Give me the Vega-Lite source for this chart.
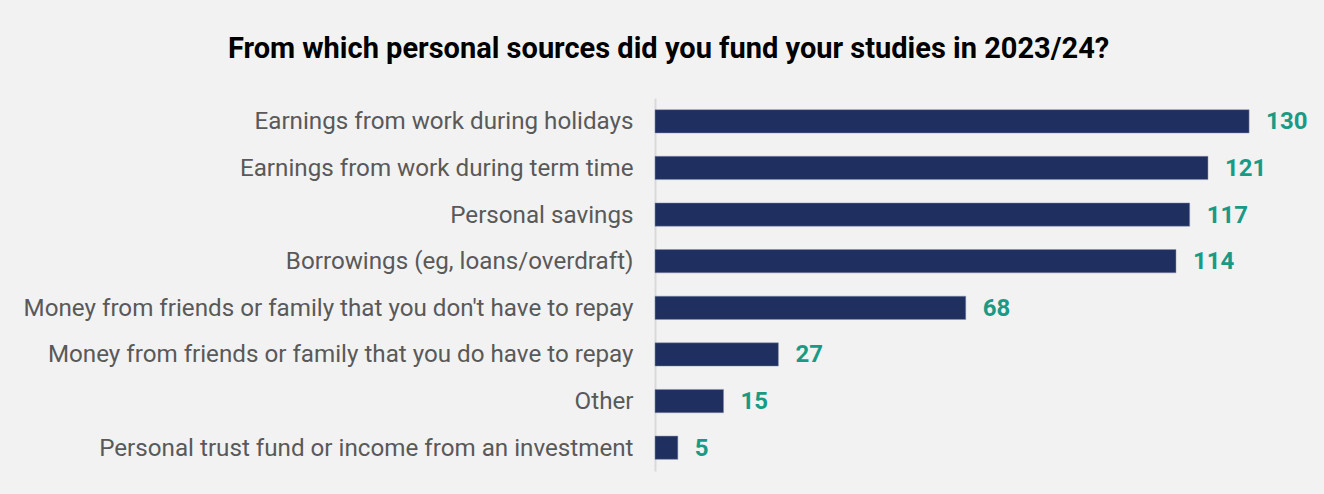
{
  "$schema": "https://vega.github.io/schema/vega-lite/v6.json",
  "autosize": {"type": "none"},
  "padding": {"left": 655, "top": 98, "right": 10, "bottom": 23},
  "width": 659,
  "height": 373,
  "background": "#f2f2f2",
  "config": {"view": {"stroke": null}, "font": "Roboto"},
  "title": {
    "text": "From which personal sources did you fund your studies in 2023/24?",
    "fontSize": 29,
    "fontWeight": "bold",
    "color": "#000000",
    "anchor": "middle",
    "frame": "bounds",
    "offset": 34
  },
  "data": {
    "values": [
      {"source": "Earnings from work during holidays", "value": 130},
      {"source": "Earnings from work during term time", "value": 121},
      {"source": "Personal savings", "value": 117},
      {"source": "Borrowings (eg, loans/overdraft)", "value": 114},
      {"source": "Money from friends or family that you don't have to repay", "value": 68},
      {"source": "Money from friends or family that you do have to repay", "value": 27},
      {"source": "Other", "value": 15},
      {"source": "Personal trust fund or income from an investment", "value": 5}
    ]
  },
  "encoding": {
    "y": {
      "field": "source",
      "type": "nominal",
      "sort": null,
      "scale": {"paddingInner": 0.5, "paddingOuter": 0.25},
      "axis": {
        "title": null,
        "ticks": false,
        "domainColor": "#d9d9d9",
        "domainWidth": 2,
        "labelFontSize": 24.2,
        "labelColor": "#595959",
        "labelPadding": 22,
        "labelOffset": 1,
        "labelLimit": 700
      }
    },
    "x": {
      "field": "value",
      "type": "quantitative",
      "scale": {"domain": [0, 144.2], "nice": false},
      "axis": null
    }
  },
  "layer": [
    {"mark": {"type": "bar", "color": "#1f3060", "stroke": "#8a93ad", "strokeWidth": 0.5}},
    {
      "mark": {"type": "text", "align": "left", "baseline": "middle", "dx": 17, "dy": 1, "fontSize": 24, "fontWeight": "bold", "color": "#1a9a85"},
      "encoding": {"text": {"field": "value", "type": "quantitative"}}
    }
  ]
}
